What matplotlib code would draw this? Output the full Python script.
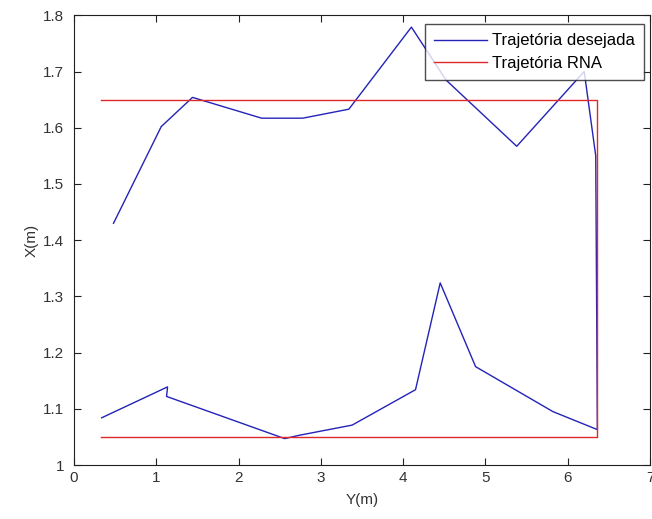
import matplotlib
matplotlib.use("Agg")
import matplotlib.pyplot as plt

# desired trajectory (blue)
y_desejada = [0.48, 1.06, 1.44, 2.28, 2.78, 3.34, 4.10, 4.52, 5.38, 6.20, 6.34,
              6.36, 5.82, 4.88, 4.45, 4.15, 3.38, 2.74, 2.56, 1.125, 1.137, 0.336]
x_desejada = [1.430, 1.602, 1.654, 1.617, 1.617, 1.633, 1.779, 1.685, 1.567, 1.700, 1.550,
              1.063, 1.095, 1.175, 1.324, 1.134, 1.071, 1.053, 1.047, 1.122, 1.139, 1.084]

# network trajectory (red)
y_rna = [0.33, 6.36, 6.36, 0.33]
x_rna = [1.650, 1.650, 1.050, 1.050]

plt.rcParams['font.family'] = ['Liberation Sans', 'DejaVu Sans']

fig = plt.figure(figsize=(6.52, 5.19), dpi=100)
ax = fig.add_axes([0.1135, 0.104, 0.8835, 0.8665])

ax.plot(y_desejada, x_desejada, color='#2323b8', lw=1.0, label='Trajetória desejada')
ax.plot(y_rna, x_rna, color='#e02828', lw=1.0, label='Trajetória RNA')

ax.set_xlim(0, 7)
ax.set_ylim(1, 1.8)
ax.set_xticks(range(0, 8))
ax.set_yticks([1, 1.1, 1.2, 1.3, 1.4, 1.5, 1.6, 1.7, 1.8])
ax.set_yticklabels(['1', '1.1', '1.2', '1.3', '1.4', '1.5', '1.6', '1.7', '1.8'])
ax.tick_params(direction='in', length=5, top=True, right=True, labelsize=11,
               colors='#202020', labelcolor='#333333')
ax.tick_params(axis='y', pad=7)
ax.tick_params(axis='x', pad=4)
for s in ax.spines.values():
    s.set_color('#202020')

ax.set_xlabel('Y(m)', fontsize=11, color='#333333', labelpad=6)
ax.set_ylabel('X(m)', fontsize=11, color='#333333', labelpad=3)

leg = ax.legend(loc='upper right', bbox_to_anchor=(1.0 - 6 / 576, 1.0 - 9 / 450),
                fontsize=12, frameon=True, fancybox=False, handlelength=3.2,
                handletextpad=0.3, labelspacing=0.45, borderpad=0.55,
                borderaxespad=0.0)
leg.get_frame().set_edgecolor('#202020')
leg.get_frame().set_linewidth(1.0)

fig.savefig('out.png', dpi=100)
